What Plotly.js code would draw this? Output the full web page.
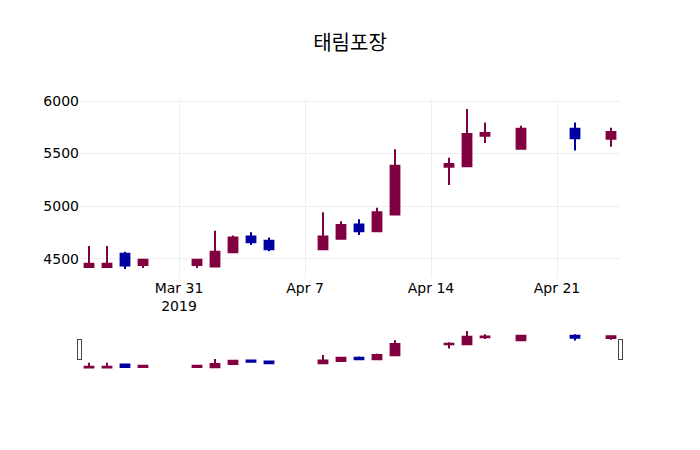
<!DOCTYPE html>
<html>
<head>
<meta charset="utf-8">
<script src="https://cdn.plot.ly/plotly-3.0.1.min.js"></script>
<style>body{margin:0;padding:0;}#chart{width:700px;height:450px;}</style>
</head>
<body>
<div id="chart"></div>
<script>
const dates = ['2019-03-26','2019-03-27','2019-03-28','2019-03-29','2019-04-01','2019-04-02','2019-04-03','2019-04-04','2019-04-05','2019-04-08','2019-04-09','2019-04-10','2019-04-11','2019-04-12','2019-04-15','2019-04-16','2019-04-17','2019-04-19','2019-04-22','2019-04-24'];
const openVals  = [4420,4420,4545,4440,4440,4425,4560,4710,4670,4590,4690,4825,4760,4920,5375,5380,5670,5545,5735,5640];
const highVals  = [4620,4620,4565,4490,4490,4765,4720,4750,4700,4940,4855,4875,4985,5540,5460,5925,5795,5765,5795,5745];
const lowVals   = [4420,4420,4400,4410,4410,4425,4560,4630,4570,4590,4690,4725,4760,4920,5200,5380,5600,5545,5530,5565];
const closeVals = [4450,4450,4435,4490,4490,4565,4700,4655,4590,4710,4820,4760,4940,5385,5400,5685,5695,5735,5645,5705];
const titleText = '태림포장';

const trace = {
  type: 'candlestick',
  x: dates,
  open: openVals,
  high: highVals,
  low: lowVals,
  close: closeVals,
  increasing: {line: {color: '#800040'}, fillcolor: '#800040'},
  decreasing: {line: {color: '#0000a0'}, fillcolor: '#0000a0'}
};

const layout = {
  width: 700,
  height: 450,
  title: {text: titleText, font: {family: '"Noto Sans CJK KR", sans-serif', size: 20, color: '#000'}},
  font: {family: '"DejaVu Sans", verdana, sans-serif', size: 14, color: '#000'},
  xaxis: {rangeslider: {visible: true}},
  yaxis: {},
  showlegend: false
};

Plotly.newPlot('chart', [trace], layout, {displayModeBar: false});
</script>
</body>
</html>
